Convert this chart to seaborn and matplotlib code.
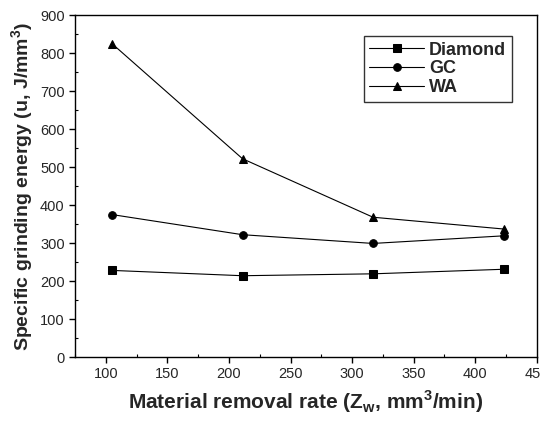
import matplotlib
matplotlib.use("Agg")
import matplotlib.pyplot as plt
import seaborn as sns
import pandas as pd
from matplotlib.ticker import MultipleLocator

rates = [105, 211, 317, 423]
diamond = [228, 214, 219, 231]
gc = [375, 322, 299, 319]
wa = [825, 522, 368, 337]
series = ["Diamond", "GC", "WA"]

df = pd.DataFrame({
    "rate": rates * 3,
    "energy": diamond + gc + wa,
    "series": [s for s in series for _ in rates],
})

sns.set_style("ticks")
plt.rcParams["font.family"] = ["Liberation Sans", "DejaVu Sans"]

fig = plt.figure(figsize=(5.4, 4.21), dpi=100)
ax = fig.add_axes([0.139, 0.152, 0.855, 0.812])

sns.lineplot(data=df, x="rate", y="energy", hue="series", style="series",
             palette={s: "black" for s in series},
             markers={"Diamond": "s", "GC": "o", "WA": "^"},
             dashes=False, linewidth=0.8, markersize=5.5, ax=ax,
             markeredgecolor="black")

ax.set_xlim(75, 450)
ax.set_ylim(0, 900)
ax.xaxis.set_major_locator(MultipleLocator(50))
ax.xaxis.set_minor_locator(MultipleLocator(25))
ax.yaxis.set_major_locator(MultipleLocator(100))
ax.yaxis.set_minor_locator(MultipleLocator(50))
ax.tick_params(which="major", direction="out", length=4, width=1, labelsize=10.5, color="black")
ax.tick_params(which="minor", direction="in", length=2.5, width=0.8, color="black")
for sp in ax.spines.values():
    sp.set_color("black")
    sp.set_linewidth(1.0)

ax.set_xlabel("Material removal rate (Z$_\\mathregular{w}$, mm$^\\mathregular{3}$/min)",
              fontsize=15, fontweight="bold", labelpad=5)
ax.set_ylabel("Specific grinding energy (u, J/mm$^\\mathregular{3}$)",
              fontsize=14, fontweight="bold", labelpad=3)

leg = ax.legend(loc="upper right", bbox_to_anchor=(0.965, 0.965), frameon=True,
                fancybox=False, edgecolor="black", handlelength=3.0,
                prop={"weight": "bold", "size": 13}, borderpad=0.3,
                labelspacing=0.1, handletextpad=0.3)
leg.get_frame().set_linewidth(1.0)

fig.savefig("out.png", dpi=100)
